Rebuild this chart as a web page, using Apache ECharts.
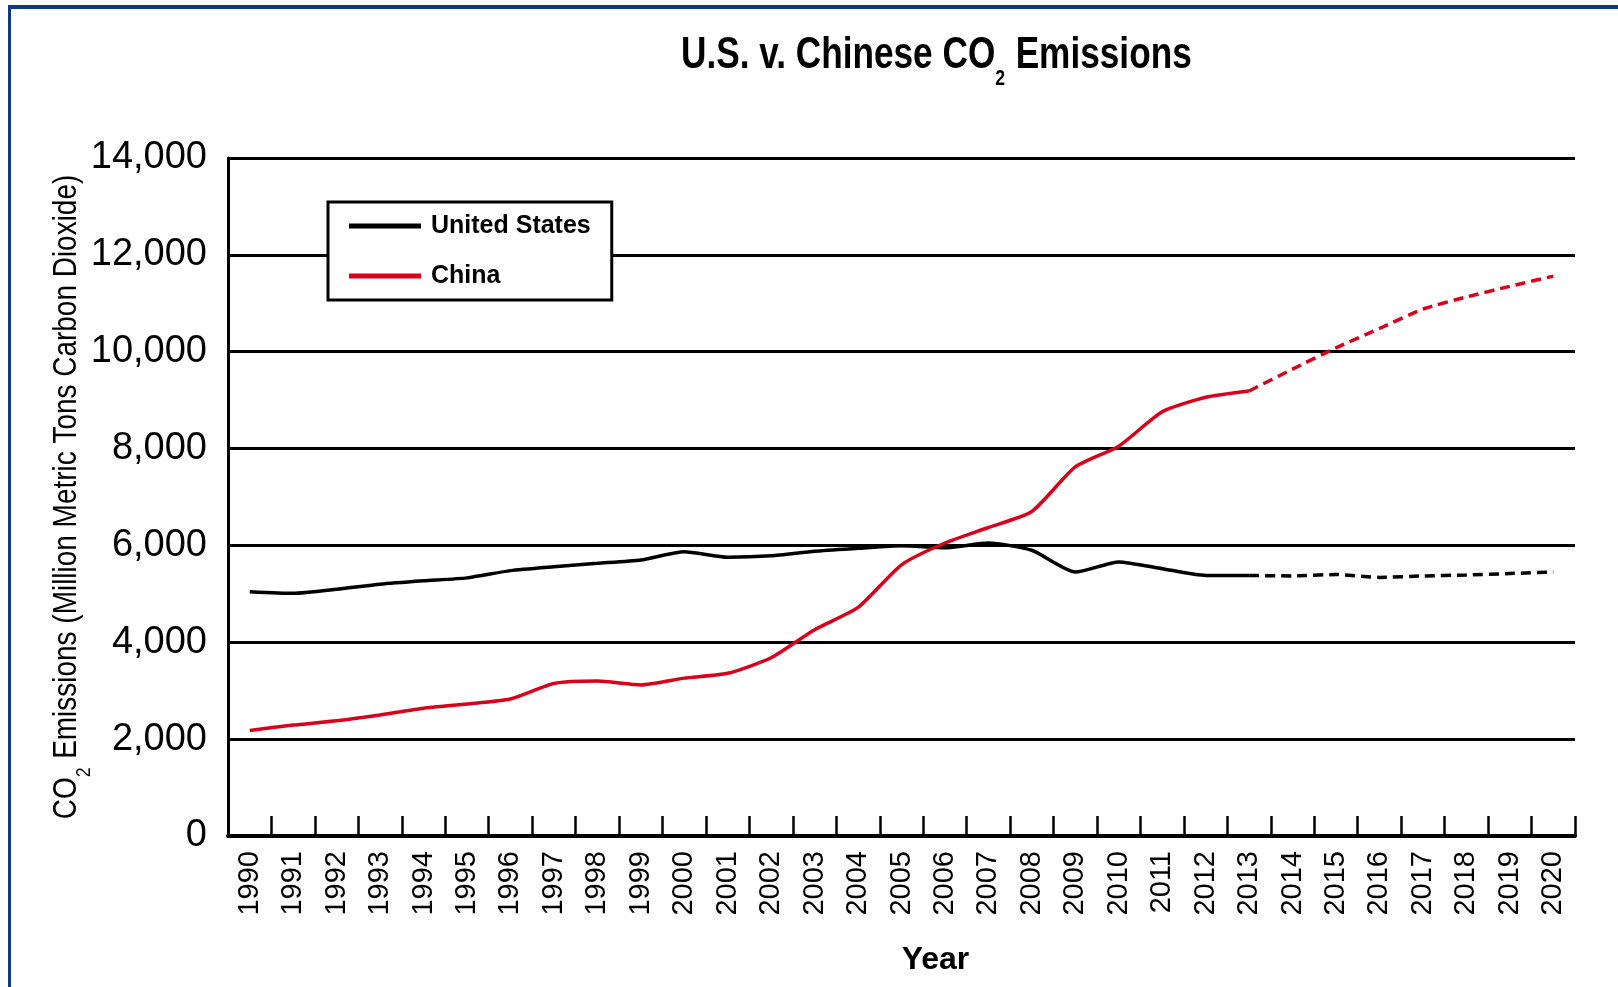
<!DOCTYPE html>
<html>
<head>
<meta charset="utf-8">
<script src="https://cdn.jsdelivr.net/npm/echarts@6/dist/echarts.min.js"></script>
<style>
  html, body { margin: 0; padding: 0; background: #fff; }
  #chart { position: absolute; left: 0; top: 0; width: 1618px; height: 987px; }
  #frame { position: absolute; left: 8px; top: 5px; width: 1610px; height: 982px;
           border-top: 4px solid #0b3b7e; border-left: 3px solid #0b3b7e; box-sizing: border-box; pointer-events: none; }
</style>
</head>
<body>
<div id="chart"></div>
<div id="frame"></div>
<script>
const years = ['1990','1991','1992','1993','1994','1995','1996','1997','1998','1999','2000',
  '2001','2002','2003','2004','2005','2006','2007','2008','2009','2010',
  '2011','2012','2013','2014','2015','2016','2017','2018','2019','2020'];

// 1990-2013 (observed)
const usHistory = [5045, 5010, 5094, 5200, 5270, 5330, 5480, 5560, 5630, 5700, 5870,
  5755, 5785, 5880, 5940, 5995, 5950, 6050, 5900, 5450, 5660, 5520, 5380, 5380];
// 2013-2020 (projected)
const usProjection = [5380, 5370, 5400, 5340, 5370, 5390, 5420, 5450];

const chinaHistory = [2180, 2290, 2380, 2500, 2640, 2726, 2830, 3150, 3200, 3120, 3260,
  3360, 3680, 4260, 4720, 5600, 6050, 6370, 6700, 7620, 8050, 8760, 9060, 9190];
const chinaProjection = [9190, 9640, 10080, 10480, 10880, 11130, 11350, 11560];

const seriesNames = ['United States', 'China'];
const titleParts = ['U.S. v. Chinese CO', '2', ' Emissions'];
const yNameParts = ['CO', '2', ' Emissions (Million Metric Tons Carbon Dioxide)'];
const xName = 'Year';
const yTicks = { min: 0, max: 14000, interval: 2000 };

const histLen = usHistory.length;           // 24 points: 1990..2013
const projStart = histLen - 1;              // projection starts at 2013

function padHistory(arr) {
  return years.map((y, i) => (i < arr.length ? arr[i] : null));
}
function padProjection(arr) {
  return years.map((y, i) => (i >= projStart && i - projStart < arr.length ? arr[i - projStart] : null));
}

const SANS = '"Liberation Sans", Arial, sans-serif';
const RED = '#d9001b';

const chart = echarts.init(document.getElementById('chart'), null, { renderer: 'canvas' });

chart.setOption({
  backgroundColor: '#ffffff',
  animation: false,
  graphic: [
    {
      type: 'text',
      x: 681, y: 34,
      scaleX: 0.80, scaleY: 1,
      z: 10,
      style: {
        text: '{a|' + titleParts[0] + '}{s|' + titleParts[1] + '}{a|' + titleParts[2] + '}',
        align: 'left', verticalAlign: 'top',
        rich: {
          a: { fontFamily: SANS, fontWeight: 'bold', fontSize: 44, lineHeight: 50, fill: '#000', verticalAlign: 'top' },
          s: { fontFamily: SANS, fontWeight: 'bold', fontSize: 22, lineHeight: 22, fill: '#000', verticalAlign: 'top', padding: [34, 1, 0, 0] }
        }
      }
    },
    {
      type: 'text',
      x: 69, y: 497,
      rotation: Math.PI / 2,
      scaleX: 0.847, scaleY: 1,
      z: 10,
      style: {
        text: '{a|' + yNameParts[0] + '}{s|' + yNameParts[1] + '}{a|' + yNameParts[2] + '}',
        align: 'center', verticalAlign: 'middle',
        rich: {
          a: { fontFamily: SANS, fontSize: 33, lineHeight: 38, fill: '#000', verticalAlign: 'top' },
          s: { fontFamily: SANS, fontSize: 21, lineHeight: 21, fill: '#000', verticalAlign: 'top', padding: [24, 1, 0, 0] }
        }
      }
    }
  ],
  legend: {
    left: 328,
    top: 202,
    orient: 'vertical',
    padding: [9, 21, 9, 21],
    borderColor: '#000',
    borderWidth: 3,
    borderRadius: 0,
    backgroundColor: '#fff',
    itemWidth: 72,
    itemHeight: 5,
    itemGap: 20,
    icon: 'rect',
    data: seriesNames,
    textStyle: { fontFamily: SANS, fontWeight: 'bold', fontSize: 25, lineHeight: 30, color: '#000', padding: [0, 0, 0, 5] }
  },
  grid: { left: 228, right: 43, top: 158, bottom: 151, containLabel: false },
  xAxis: {
    type: 'category',
    data: years,
    boundaryGap: true,
    name: xName,
    nameLocation: 'middle',
    nameGap: 106,
    nameTextStyle: { fontFamily: SANS, fontWeight: 'bold', fontSize: 32, lineHeight: 36, color: '#000', padding: [0, 0, 0, 68] },
    axisLine: { show: true, lineStyle: { color: '#000', width: 4 } },
    axisTick: { show: true, inside: true, length: 20, lineStyle: { color: '#000', width: 2.5 } },
    axisLabel: { rotate: 90, margin: 15, interval: 0, fontFamily: SANS, fontSize: 29, color: '#000' },
    splitLine: { show: false }
  },
  yAxis: {
    type: 'value',
    min: yTicks.min,
    max: yTicks.max,
    interval: yTicks.interval,
    axisLine: { show: true, lineStyle: { color: '#000', width: 3 } },
    axisTick: { show: false },
    axisLabel: {
      margin: 21, fontFamily: SANS, fontSize: 38, color: '#000',
      formatter: v => v.toLocaleString('en-US')
    },
    splitLine: { show: true, lineStyle: { color: '#000', width: 3 } }
  },
  series: [
    { name: seriesNames[0], type: 'line', data: padHistory(usHistory), smooth: 0.2, symbol: 'none',
      itemStyle: { color: '#000' }, lineStyle: { color: '#000', width: 3.5 }, z: 3 },
    { name: seriesNames[0], type: 'line', data: padProjection(usProjection), smooth: 0.2, symbol: 'none',
      itemStyle: { color: '#000' }, lineStyle: { color: '#000', width: 3.5, type: [10, 6] }, z: 3 },
    { name: seriesNames[1], type: 'line', data: padHistory(chinaHistory), smooth: 0.2, symbol: 'none',
      itemStyle: { color: RED }, lineStyle: { color: RED, width: 3.5 }, z: 4 },
    { name: seriesNames[1], type: 'line', data: padProjection(chinaProjection), smooth: 0.2, symbol: 'none',
      itemStyle: { color: RED }, lineStyle: { color: RED, width: 3.5, type: [10, 6] }, z: 4 }
  ]
});
</script>
</body>
</html>
